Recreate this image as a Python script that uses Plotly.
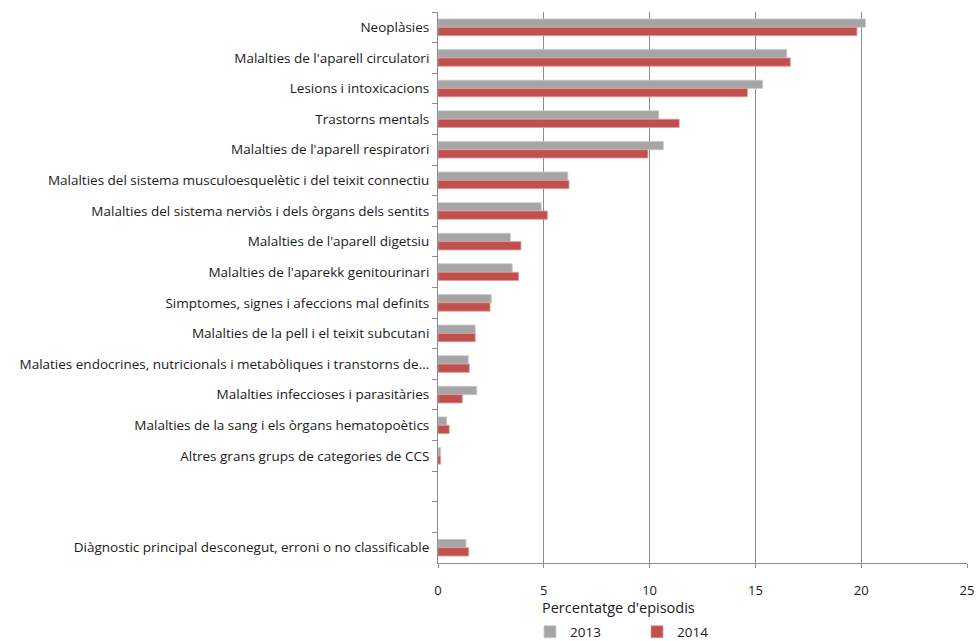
import plotly.graph_objects as go

categories = [
    "Neoplàsies",
    "Malalties de l'aparell circulatori",
    "Lesions i intoxicacions",
    "Trastorns mentals",
    "Malalties de l'aparell respiratori",
    "Malalties del sistema musculoesquelètic i del teixit connectiu",
    "Malalties del sistema nerviòs i dels òrgans dels sentits",
    "Malalties de l'aparell digetsiu",
    "Malalties de l'aparekk genitourinari",
    "Simptomes, signes i afeccions mal definits",
    "Malalties de la pell i el teixit subcutani",
    "Malaties endocrines, nutricionals i metabòliques i transtorns de...",
    "Malalties infeccioses i parasitàries",
    "Malalties de la sang i els òrgans hematopoètics",
    "Altres grans grups de categories de CCS",
    " ",
    "  ",
    "Diàgnostic principal desconegut, erroni o no classificable",
]
values_2013 = [20.2, 16.48, 15.34, 10.43, 10.65, 6.13, 4.88, 3.42, 3.51, 2.52,
               1.76, 1.43, 1.83, 0.41, 0.12, None, None, 1.32]
values_2014 = [19.8, 16.65, 14.62, 11.4, 9.92, 6.19, 5.17, 3.92, 3.81, 2.46,
               1.76, 1.48, 1.15, 0.53, 0.12, None, None, 1.45]
series_names = ["2013", "2014"]
x_ticks = [0, 5, 10, 15, 20, 25]
x_title = "Percentatge d'episodis"

fig = go.Figure()
fig.add_trace(go.Bar(
    y=categories, x=values_2013, name=series_names[0], orientation="h",
    marker=dict(color="#A5A5A5", line=dict(color="#C9C9C9", width=0.8)),
))
fig.add_trace(go.Bar(
    y=categories, x=values_2014, name=series_names[1], orientation="h",
    marker=dict(color="#C0504D", line=dict(color="#E39C9A", width=0.8)),
))

fig.update_layout(
    width=979, height=641,
    margin=dict(l=438, r=12, t=12, b=78),
    paper_bgcolor="white", plot_bgcolor="white",
    barmode="group", bargap=0.455, bargroupgap=0,
    font=dict(family="Open Sans, Liberation Sans, sans-serif", size=13, color="#1a1a1a"),
    legend=dict(
        orientation="h", xref="container", yref="container",
        x=530 / 979, xanchor="left",
        y=(641 - 632) / 641, yanchor="middle", entrywidth=62,
        font=dict(size=13.5), traceorder="normal",
        itemwidth=30,
    ),
    annotations=[dict(
        text=x_title, xref="paper", yref="paper",
        x=(618 - 438) / 529, y=-0.06, xanchor="center", yanchor="top",
        showarrow=False, font=dict(size=14.5, color="#1a1a1a"),
    )],
    showlegend=True,
)

fig.update_xaxes(
    range=[0, 25], tickvals=x_ticks, showgrid=True, gridcolor="#8C8C8C", gridwidth=1,
    zeroline=False, showline=True, linecolor="#8C8C8C", linewidth=1,
    ticks="outside", ticklen=4, tickcolor="#8C8C8C", automargin=False,
    ticklabelstandoff=11, tickfont=dict(size=13),
)
fig.update_yaxes(
    type="category", categoryorder="array", categoryarray=categories,
    autorange="reversed", showgrid=False, zeroline=False, automargin=False,
    showline=True, linecolor="#8C8C8C", linewidth=1,
    ticks="outside", ticklen=5, tickcolor="#8C8C8C", tickson="boundaries",
    ticklabelstandoff=5, tickfont=dict(size=13.5),
)

fig.write_html("out.html", config={"displayModeBar": False},
               post_script="document.body.style.margin='0px';")
